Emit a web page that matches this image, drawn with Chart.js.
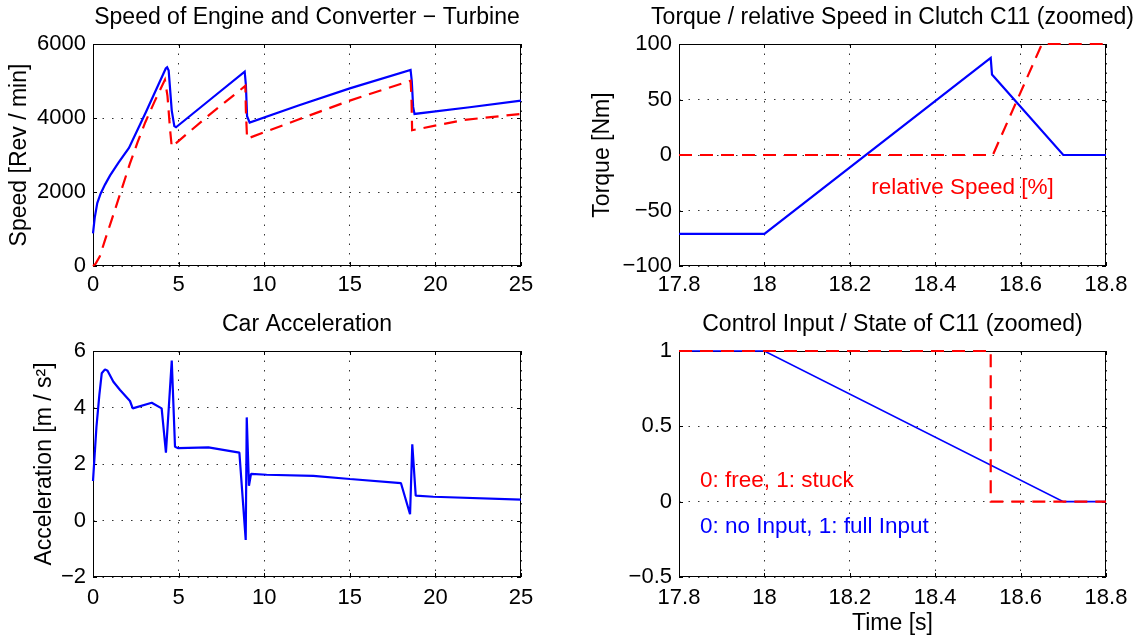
<!DOCTYPE html>
<html>
<head>
<meta charset="utf-8">
<script src="https://cdn.jsdelivr.net/npm/chart.js@4.4.0/dist/chart.umd.min.js"></script>
<style>
html,body{margin:0;padding:0;background:#fff;overflow:hidden;width:1136px;height:637px;}
canvas{position:absolute;}
</style>
</head>
<body>
<canvas id="c1"></canvas>
<canvas id="c2"></canvas>
<canvas id="c3"></canvas>
<canvas id="c4"></canvas>
<script>
// ---------- data ----------
const engineTime  = [0, 0.1, 0.25, 0.45, 0.7, 1.0, 1.5, 2.1, 3.1, 4.25, 4.33, 4.42, 4.6, 4.75, 4.85, 6.85, 8.86, 8.93, 9.0, 9.15, 12, 15, 18.55, 18.62, 18.7, 18.78, 22, 25];
const engineSpeed = [880, 1300, 1700, 1960, 2200, 2450, 2800, 3190, 4170, 5340, 5370, 5280, 4200, 3780, 3750, 4500, 5255, 4900, 4050, 3875, 4340, 4800, 5300, 5000, 4300, 4110, 4290, 4470];

const turbineTime  = [0, 0.15, 0.4, 0.7, 1.1, 1.6, 2.15, 2.6, 3.05, 3.6, 4.2, 4.35, 4.5, 4.6, 6.7, 8.9, 8.93, 9.0, 12, 15, 18.55, 18.6, 18.64, 21.7, 25];
const turbineSpeed = [0, 60, 260, 700, 1260, 1970, 2760, 3340, 3880, 4450, 5030, 4600, 3700, 3220, 4050, 4870, 4200, 3440, 3960, 4470, 5010, 4600, 3670, 3950, 4110];

const accelTime  = [0, 0.2, 0.37, 0.51, 0.7, 0.85, 1.19, 1.58, 2.16, 2.32, 3.43, 4.01, 4.26, 4.6, 4.79, 4.98, 6.74, 8.55, 8.92, 8.98, 9.11, 9.23, 10.14, 12.87, 15.01, 17.99, 18.52, 18.65, 18.85, 19.88, 25];
const accelValue = [1.4, 3.3, 4.44, 5.21, 5.35, 5.3, 4.91, 4.62, 4.23, 3.97, 4.17, 3.97, 2.40, 5.66, 2.61, 2.56, 2.59, 2.40, -0.69, 3.65, 1.23, 1.65, 1.62, 1.58, 1.47, 1.32, 0.22, 2.70, 0.88, 0.84, 0.74];

const torqueTime  = [17.8, 18.0, 18.53, 18.533, 18.70, 18.8];
const torqueValue = [-71, -71, 87.5, 72.5, 0, 0];
const slipTime  = [17.8, 18.535, 18.65, 18.8];
const slipValue = [0, 0, 100, 100];

const inputTime  = [17.8, 18.0, 18.70, 18.8];
const inputValue = [1, 1, 0, 0];
const stateTime  = [17.8, 18.53, 18.53, 18.8];
const stateValue = [1, 1, 0, 0];

const timeTicks   = [0, 5, 10, 15, 20, 25];
const speedTicks  = [0, 2000, 4000, 6000];
const accelTicks  = [-2, 0, 2, 4, 6];
const zoomTicks   = [17.8, 18, 18.2, 18.4, 18.6, 18.8];
const torqueTicks = [-100, -50, 0, 50, 100];
const stateTicks  = [-0.5, 0, 0.5, 1];

// ---------- helpers ----------
const FAMILY = "'Liberation Sans', Arial, Helvetica, sans-serif";
const TICK_FONT  = {family: FAMILY, size: 22, lineHeight: 1.2, weight: 'normal'};
const LABEL_FONT = {family: FAMILY, size: 23, lineHeight: 1.2, weight: 'normal'};
const NOTE_SIZE = 22.5;
const BLUE = 'rgb(0,0,255)', RED = 'rgb(255,0,0)';
const GRID = 'rgba(0,0,0,0.8)';

function pairs(xs, ys) { return xs.map((x, i) => ({x: x, y: ys[i]})); }
function fmt(v) {
  const r = Math.round(v * 1000) / 1000;
  return String(r).replace('-', '\u2212');
}

function framePlugin() {
  return {
    id: 'frame',
    beforeDatasetsDraw(chart) {
      const {ctx, chartArea: a, scales} = chart;
      ctx.save();
      ctx.strokeStyle = '#000';
      ctx.lineWidth = 1;
      ctx.setLineDash([]);
      ctx.strokeRect(a.left + 0.5, a.top + 0.5, a.right - a.left - 1, a.bottom - a.top - 1);
      const L = 4;
      ctx.beginPath();
      scales.x.ticks.forEach(t => {
        const px = Math.round(scales.x.getPixelForValue(t.value)) + 0.5;
        ctx.moveTo(px, a.bottom); ctx.lineTo(px, a.bottom - L);
        ctx.moveTo(px, a.top); ctx.lineTo(px, a.top + L);
      });
      scales.y.ticks.forEach(t => {
        const py = Math.round(scales.y.getPixelForValue(t.value)) + 0.5;
        ctx.moveTo(a.left, py); ctx.lineTo(a.left + L, py);
        ctx.moveTo(a.right, py); ctx.lineTo(a.right - L, py);
      });
      ctx.stroke();
      ctx.restore();
    }
  };
}

function notesPlugin(notes) {
  return {
    id: 'notes',
    afterDatasetsDraw(chart) {
      const {ctx, scales} = chart;
      ctx.save();
      ctx.font = NOTE_SIZE + 'px ' + FAMILY;
      ctx.textAlign = 'left';
      ctx.textBaseline = 'middle';
      notes.forEach(n => {
        ctx.fillStyle = n.color;
        ctx.fillText(n.text, scales.x.getPixelForValue(n.x), scales.y.getPixelForValue(n.y));
      });
      ctx.restore();
    }
  };
}

function makeChart(s) {
  const cv = document.getElementById(s.id);
  cv.width = s.w; cv.height = s.h;
  cv.style.left = s.left + 'px'; cv.style.top = s.top + 'px';
  cv.style.width = s.w + 'px'; cv.style.height = s.h + 'px';
  return new Chart(cv, {
    type: 'line',
    data: {datasets: s.datasets},
    options: {
      responsive: false,
      animation: false,
      devicePixelRatio: 1,
      layout: {padding: 0},
      events: [],
      plugins: {
        legend: {display: false},
        tooltip: {enabled: false},
        title: {
          display: true, text: s.title, color: '#000', font: LABEL_FONT,
          padding: {top: s.titleTop, bottom: s.titleBottom}
        }
      },
      scales: {
        x: {
          type: 'linear', min: s.xMin, max: s.xMax,
          afterBuildTicks: sc => { sc.ticks = s.xTicks.map(v => ({value: v})); },
          afterFit: sc => { sc.height = s.xHeight; sc.paddingRight = s.padRight; },
          ticks: {font: TICK_FONT, color: '#000', padding: s.xPad, autoSkip: false,
                  maxRotation: 0, minRotation: 0, callback: v => fmt(v)},
          grid: {color: GRID, lineWidth: 1, drawTicks: false},
          border: {display: false, dash: [1.5, 8]},
          title: s.xTitle ? {display: true, text: s.xTitle, color: '#000', font: LABEL_FONT,
                             padding: {top: 0, bottom: 0}} : {display: false}
        },
        y: {
          type: 'linear', min: s.yMin, max: s.yMax,
          afterBuildTicks: sc => { sc.ticks = s.yTicks.map(v => ({value: v})); },
          afterFit: sc => { sc.width = s.yWidth; },
          ticks: {font: TICK_FONT, color: '#000', padding: 7, autoSkip: false, callback: v => fmt(v)},
          grid: {color: GRID, lineWidth: 1, drawTicks: false},
          border: {display: false, dash: [1.5, 8]},
          title: s.yTitle ? {display: true, text: s.yTitle, color: '#000', font: LABEL_FONT,
                             padding: {top: s.yTitlePad, bottom: 0}} : {display: false}
        }
      }
    },
    plugins: [framePlugin(), notesPlugin(s.notes || [])]
  });
}

function line(xs, ys, color, width, dashed, order, join) {
  return {
    data: pairs(xs, ys), borderColor: color, borderWidth: width,
    borderDash: dashed ? [13, 8] : [], pointRadius: 0, tension: 0, fill: false,
    order: order, borderJoinStyle: join || 'miter', clip: 6
  };
}

// ---------- charts ----------
makeChart({
  id: 'c1', left: 0, top: 0, w: 614, h: 300,
  title: 'Speed of Engine and Converter \u2212 Turbine', titleTop: 3.8, titleBottom: 12.6,
  xMin: 0, xMax: 25, xTicks: timeTicks, xHeight: 34, xPad: 6, padRight: 93,
  yMin: 0, yMax: 6000, yTicks: speedTicks, yWidth: 93,
  yTitle: 'Speed [Rev / min]', yTitlePad: 6.2,
  datasets: [
    line(engineTime, engineSpeed, BLUE, 2.2, false, 1),
    line(turbineTime, turbineSpeed, RED, 2.2, true, 0)
  ]
});

makeChart({
  id: 'c2', left: 585, top: 0, w: 615, h: 300,
  title: 'Torque / relative Speed in Clutch C11 (zoomed)', titleTop: 3.8, titleBottom: 12.6,
  xMin: 17.8, xMax: 18.8, xTicks: zoomTicks, xHeight: 34, xPad: 6, padRight: 94,
  yMin: -100, yMax: 100, yTicks: torqueTicks, yWidth: 94,
  yTitle: 'Torque [Nm]', yTitlePad: 4.2,
  datasets: [
    line(torqueTime, torqueValue, BLUE, 2.2, false, 1),
    line(slipTime, slipValue, RED, 2.2, true, 0)
  ],
  notes: [{text: 'relative Speed [%]', x: 18.25, y: -29.5, color: RED}]
});

makeChart({
  id: 'c3', left: 0, top: 300, w: 614, h: 337,
  title: 'Car Acceleration', titleTop: 10.8, titleBottom: 12.6,
  xMin: 0, xMax: 25, xTicks: timeTicks, xHeight: 60, xPad: 8, padRight: 93,
  yMin: -2, yMax: 6, yTicks: accelTicks, yWidth: 93,
  yTitle: 'Acceleration [m / s\u00b2]', yTitlePad: 31.2,
  datasets: [
    line(accelTime, accelValue, BLUE, 2.2, false, 1, 'bevel')
  ]
});

makeChart({
  id: 'c4', left: 585, top: 300, w: 615, h: 337,
  title: 'Control Input / State of C11 (zoomed)', titleTop: 10.8, titleBottom: 12.6,
  xMin: 17.8, xMax: 18.8, xTicks: zoomTicks, xHeight: 60, xPad: 8, padRight: 94,
  xTitle: 'Time [s]',
  yMin: -0.5, yMax: 1, yTicks: stateTicks, yWidth: 94,
  datasets: [
    line(inputTime, inputValue, BLUE, 1.7, false, 1),
    line(stateTime, stateValue, RED, 2.2, true, 0)
  ],
  notes: [
    {text: '0: free, 1: stuck', x: 17.849, y: 0.137, color: RED},
    {text: '0: no Input, 1: full Input', x: 17.849, y: -0.165, color: BLUE}
  ]
});
</script>
</body>
</html>
